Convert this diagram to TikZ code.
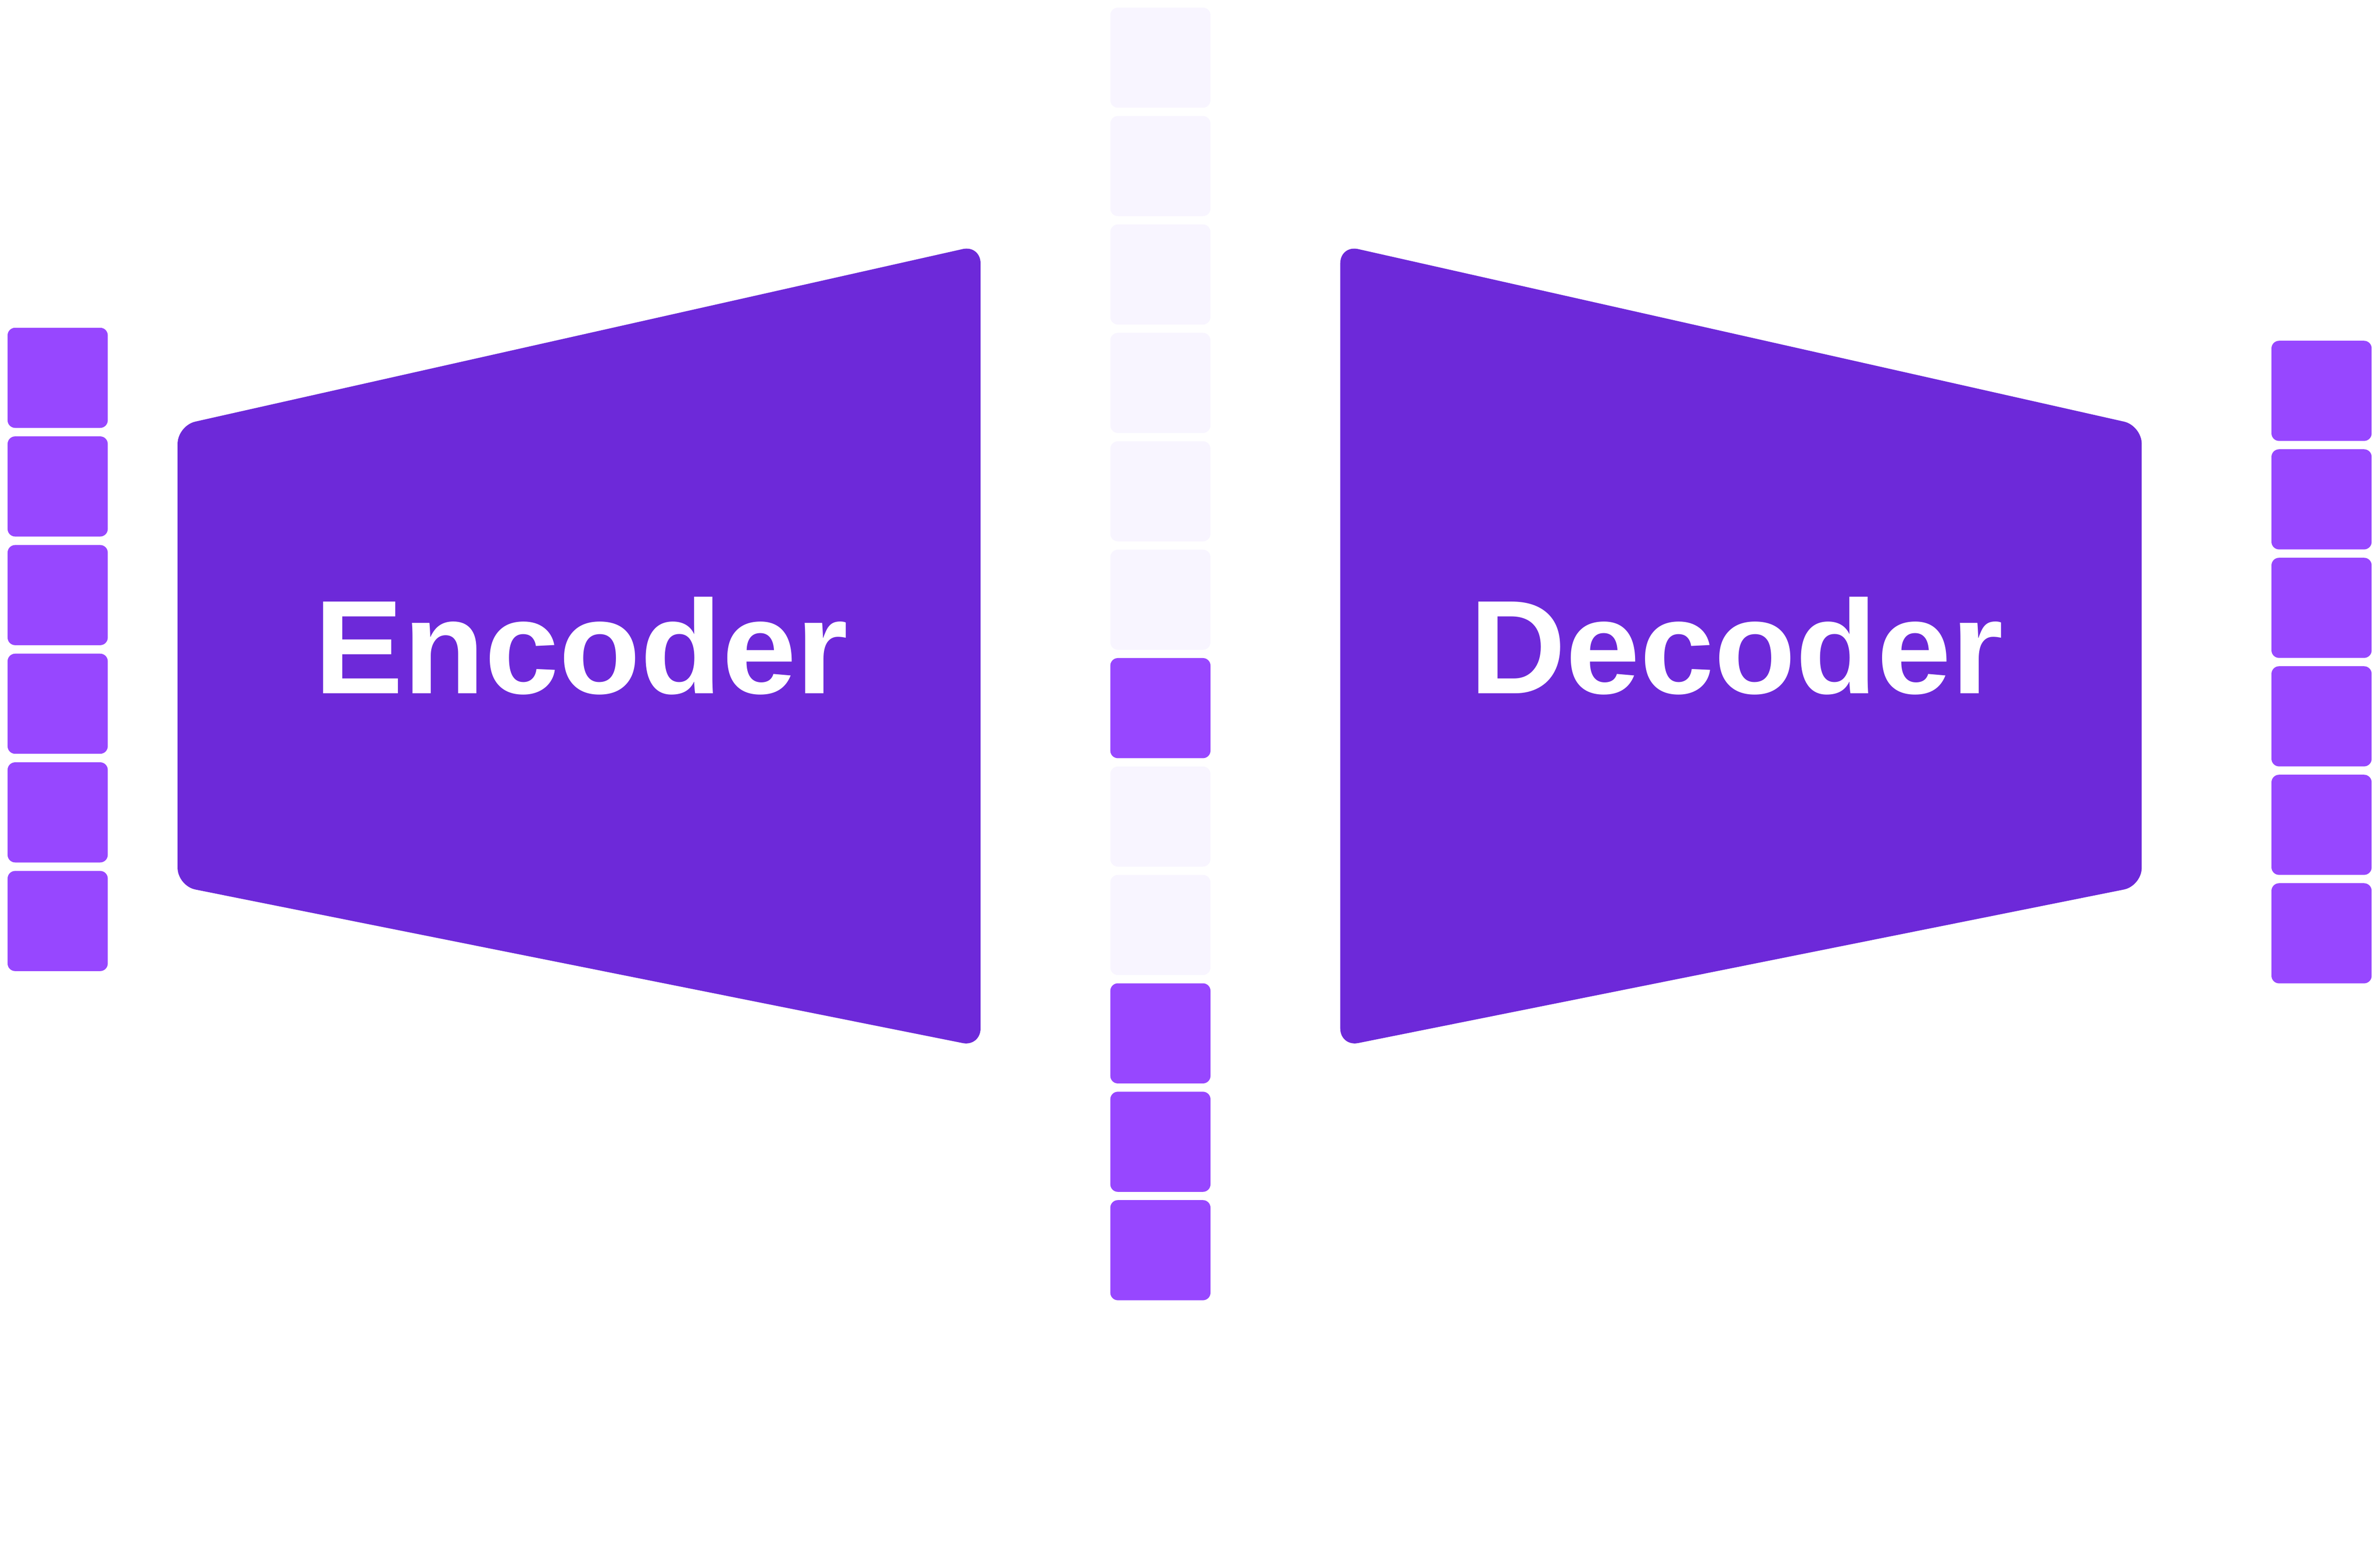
\documentclass[tikz,border=0pt]{standalone}
\usepackage{fontspec}
\setmainfont{Liberation Sans}
\usetikzlibrary{positioning}
\definecolor{netpurple}{HTML}{6D29D9}
\definecolor{tokpurple}{HTML}{9747FF}
\definecolor{toklight}{HTML}{F8F5FF}

\begin{document}
\begin{tikzpicture}[x=0.1mm, y=-0.1mm,
    tok/.style={rectangle, rounded corners=0.5mm, minimum width=6.6mm, minimum height=6.6mm, inner sep=0pt, fill=tokpurple},
    masked/.style={tok, fill=toklight},
    block/.style={fill=netpurple, rounded corners=1.2mm},
    blocktext/.style={anchor=base, text=white, font=\bfseries\fontsize{25}{30}\selectfont}]
    \useasboundingbox (0,0) rectangle (1568,1024.7);

    % Input tokens
    \foreach \i in {1,...,6}
        \node[tok] (in\i) at (38, {249+(\i-1)*71.6}) {};

    % Latent column (light = masked)
    \foreach \i/\s in {1/masked,2/masked,3/masked,4/masked,5/masked,6/masked,
                       7/tok,8/masked,9/masked,10/tok,11/tok,12/tok}
        \node[\s] (z\i) at (764.5, {38+(\i-1)*71.45}) {};

    % Output tokens
    \foreach \i in {1,...,6}
        \node[tok] (out\i) at (1529.5, {257.6+(\i-1)*71.5}) {};

    % Encoder
    \fill[block] (117,280.5) -- (646,161.5) -- (646,689.8) -- (117,583.9) -- cycle;
    \node[blocktext] (enc) at (383,457) {Encoder};

    % Decoder
    \fill[block] (883,161.5) -- (1411,280.5) -- (1411,583.9) -- (883,689.8) -- cycle;
    \node[blocktext] (dec) at (1144,457) {Decoder};
\end{tikzpicture}
\end{document}
